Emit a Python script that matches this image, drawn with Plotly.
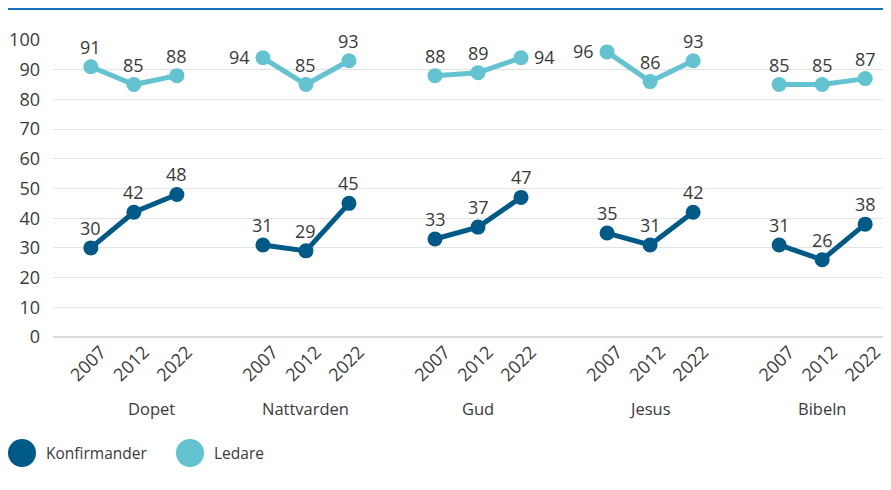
import plotly.graph_objects as go

categories = ["Dopet", "Nattvarden", "Gud", "Jesus", "Bibeln"]
years = ["2007", "2012", "2022"]
konfirmander = [30, 42, 48, 31, 29, 45, 33, 37, 47, 35, 31, 42, 31, 26, 38]
ledare = [91, 85, 88, 94, 85, 93, 88, 89, 94, 96, 86, 93, 85, 85, 87]
series_names = ["Konfirmander", "Ledare"]

# label placement overrides (index -> side)
ledare_label_pos = {3: "left", 8: "right", 9: "left"}
# group label pixel shifts
group_label_shift = {0: 18}

DARK = "#005a87"
LIGHT = "#63c3d1"
TXT = "#3a3a3a"
FONT = "Open Sans"

# page offset (body margin) compensation
OFF = 8
PL, PT, PB = 53, 40, 337  # plot left, top, bottom in page px
W, H = 891, 490
m_l, m_t = PL - OFF, PT - OFF
m_b = H - (PB - OFF)
m_r = OFF
plot_w = W - m_l - m_r
plot_h = H - m_t - m_b

slot = len(years) + 1
xs, tick_vals, tick_text = [], [], []
for g, cat in enumerate(categories):
    for i, yr in enumerate(years):
        xs.append(g * slot + i)
        tick_vals.append(g * slot + i)
        tick_text.append(yr)


def broken(values):
    X, Y = [], []
    for g in range(len(categories)):
        for i in range(len(years)):
            k = g * len(years) + i
            X.append(xs[k]); Y.append(values[k])
        X.append(None); Y.append(None)
    return X, Y


fig = go.Figure()
for name, vals, col, posmap in [
    (series_names[0], konfirmander, DARK, {}),
    (series_names[1], ledare, LIGHT, ledare_label_pos),
]:
    X, Y = broken(vals)
    fig.add_trace(go.Scatter(
        x=X, y=Y, mode="lines+markers", name=name,
        line=dict(color=col, width=5),
        marker=dict(color=col, size=15),
        cliponaxis=False, connectgaps=False, showlegend=False,
        hoverinfo="skip",
    ))
    for k, v in enumerate(vals):
        side = posmap.get(k)
        if side == "left":
            kw = dict(xanchor="right", yanchor="middle", xshift=-11, yshift=1)
        elif side == "right":
            kw = dict(xanchor="left", yanchor="middle", xshift=11, yshift=1)
        else:
            kw = dict(xanchor="center", yanchor="middle", xshift=0, yshift=20)
        fig.add_annotation(x=xs[k], y=v, xref="x", yref="y", text=str(v),
                           showarrow=False,
                           font=dict(size=18, color=TXT, family=FONT), **kw)

# group labels
for g, cat in enumerate(categories):
    fig.add_annotation(x=g * slot + 1, y=-(408 - PB) / plot_h, xref="x", yref="paper",
                       text=cat, showarrow=False, yanchor="middle",
                       xshift=group_label_shift.get(g, 0),
                       font=dict(size=16.5, color=TXT, family=FONT))

# manual legend
legend_x = [22, 190]
for name, col, lx in zip(series_names, [DARK, LIGHT], legend_x):
    px = (lx - PL) / plot_w
    py = -(453 - PB) / plot_h
    fig.add_shape(type="circle", xref="paper", yref="paper",
                  xsizemode="pixel", ysizemode="pixel",
                  xanchor=px, yanchor=py,
                  x0=-14, x1=14, y0=-14, y1=14,
                  fillcolor=col, line=dict(width=0))
    fig.add_annotation(x=(lx + 22 - PL) / plot_w, y=py,
                       xref="paper", yref="paper", text=name,
                       showarrow=False, xanchor="left", yanchor="middle",
                       font=dict(size=15.5, color=TXT, family=FONT))

# top rule
fig.add_shape(type="line", xref="paper", yref="paper",
              ysizemode="pixel", yanchor=1, y0=PT - 8.5, y1=PT - 8.5,
              x0=(8 - PL) / plot_w, x1=1.0,
              line=dict(color="#1a70bd", width=3))

fig.update_layout(
    width=W, height=H,
    margin=dict(l=m_l, r=m_r, t=m_t, b=m_b, autoexpand=False),
    paper_bgcolor="white", plot_bgcolor="white",
    font=dict(family=FONT, color=TXT),
    showlegend=False,
    xaxis=dict(range=[-0.88, 18.6], tickvals=tick_vals, ticktext=tick_text,
               tickangle=-45, showgrid=False, zeroline=False, showline=False,
               automargin=False, ticklabelshift=10,
               tickfont=dict(size=18, color=TXT, family=FONT), ticks=""),
    yaxis=dict(range=[0, 100], dtick=10, gridcolor="#e3e3e3", gridwidth=1,
               zeroline=True, zerolinecolor="#dcdcdc", zerolinewidth=2,
               showline=False, ticks="", ticklabelstandoff=12, automargin=False,
               tickfont=dict(size=18, color=TXT, family=FONT)),
)

fig.write_html("out.html")
